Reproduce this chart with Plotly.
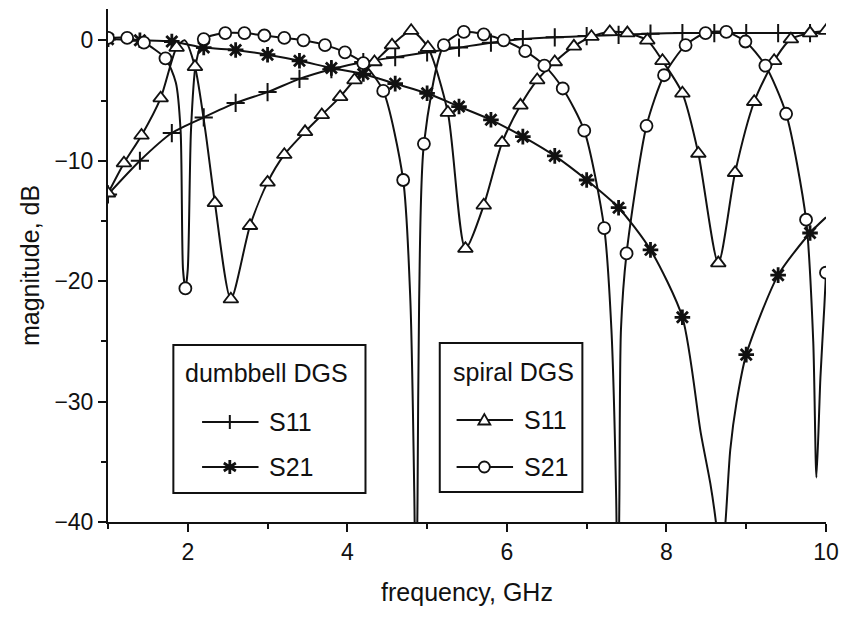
import plotly.graph_objects as go

# ---------------- data ----------------
# dumbbell DGS, S11 (plus markers)
dumb_s11_f = [1.0, 1.4, 1.8, 2.2, 2.6, 3.0, 3.4, 3.8, 4.2, 4.6, 5.0, 5.4, 5.8, 6.2, 6.6, 7.0,
              7.4, 7.8, 8.2, 8.6, 9.0, 9.4, 9.8, 10.0]
dumb_s11_db = [-12.8, -10.0, -7.7, -6.4, -5.2, -4.3, -3.2, -2.4, -1.8, -1.4, -1.0, -0.6, -0.2, 0.1,
               0.25, 0.35, 0.45, 0.55, 0.6, 0.6, 0.6, 0.6, 0.6, 0.6]
dumb_s11_mark = [1, 1, 1, 1, 1, 1, 1, 1, 1, 1, 1, 1, 1, 1, 1, 1, 1, 1, 1, 1, 1, 1, 1, 0]

# dumbbell DGS, S21 (star markers)
dumb_s21_f = [1.0, 1.4, 1.8, 2.2, 2.6, 3.0, 3.4, 3.8, 4.2, 4.6, 5.0, 5.4, 5.8, 6.2, 6.6, 7.0,
              7.4, 7.8, 8.2, 8.43, 8.55, 8.62, 8.68, 8.74, 8.8, 8.88, 9.0, 9.4, 9.8, 10.0]
dumb_s21_db = [0.1, 0.0, -0.1, -0.6, -0.8, -1.2, -1.7, -2.3, -2.8, -3.6, -4.4, -5.5, -6.6, -8.0,
               -9.6, -11.6, -13.9, -17.4, -23.0, -32.6, -36.8, -40.0, -44.0, -40.0, -34.0, -30.0,
               -26.1, -19.5, -16.0, -14.7]
dumb_s21_mark = [1, 1, 1, 1, 1, 1, 1, 1, 1, 1, 1, 1, 1, 1, 1, 1, 1, 1, 1, 0, 0, 0, 0, 0, 0, 0,
                 1, 1, 1, 0]

# spiral DGS, S11 (triangle markers)
spir_s11_f = [1.0, 1.2, 1.42, 1.66, 1.86, 1.96, 2.09, 2.22, 2.34, 2.54, 2.78, 3.0, 3.21, 3.47,
              3.68, 3.91, 4.09, 4.34, 4.56, 4.8, 5.01, 5.26, 5.48, 5.71, 5.94, 6.17, 6.38, 6.6,
              6.84, 7.06, 7.29, 7.51, 7.76, 7.95, 8.2, 8.4, 8.65, 8.86, 9.1, 9.35, 9.56, 9.8, 10.0]
spir_s11_db = [-12.7, -10.2, -7.9, -4.8, -0.6, 0.0, -2.2, -7.5, -13.5, -21.5, -15.4, -11.8, -9.5,
               -7.6, -6.2, -4.7, -3.3, -1.8, -0.4, 0.8, -0.6, -6.0, -17.3, -13.7, -8.5, -5.4, -3.3,
               -1.8, -0.5, 0.3, 0.7, 0.6, 0.0, -1.7, -4.4, -9.4, -18.5, -11.0, -5.1, -1.7, 0.1,
               0.6, 0.8]
spir_s11_mark = [1, 1, 1, 1, 1, 0, 1, 0, 1, 1, 1, 1, 1, 1, 1, 1, 1, 1, 1, 1, 1, 1, 1, 1, 1, 1, 1,
                 1, 1, 1, 1, 1, 1, 1, 1, 1, 1, 1, 1, 1, 1, 1, 1]

# spiral DGS, S21 (circle markers)
spir_s21_f = [1.0, 1.24, 1.45, 1.72, 1.85, 1.91, 1.94, 1.97, 2.0, 2.04, 2.1, 2.2, 2.47, 2.71,
              2.96, 3.21, 3.45, 3.72, 3.97, 4.2, 4.45, 4.7, 4.79, 4.84, 4.86, 4.88, 4.9, 4.96,
              5.21, 5.46, 5.71, 5.96, 6.23, 6.47, 6.7, 6.97, 7.22, 7.31, 7.37, 7.39, 7.41, 7.43,
              7.5, 7.75, 7.97, 8.24, 8.49, 8.75, 8.99, 9.24, 9.5, 9.75, 9.84, 9.88, 9.93, 9.98,
              10.0]
spir_s21_db = [0.2, 0.2, -0.2, -1.5, -3.5, -7.5, -19.0, -20.6, -19.0, -7.5, -2.0, 0.1, 0.6, 0.6,
               0.4, 0.2, 0.0, -0.4, -1.0, -1.9, -4.2, -11.6, -21.6, -38.0, -50.0, -38.0, -21.6,
               -8.6, -0.4, 0.7, 0.5, 0.0, -0.9, -2.1, -4.0, -7.5, -15.6, -24.0, -38.0, -50.0,
               -38.0, -24.0, -17.7, -7.1, -2.9, -0.4, 0.6, 0.7, -0.1, -2.1, -6.1, -14.9, -25.0,
               -36.3, -28.0, -22.0, -19.3]
spir_s21_mark = [1, 1, 1, 1, 0, 0, 0, 1, 0, 0, 0, 1, 1, 1, 1, 1, 1, 1, 1, 1, 1, 1, 0, 0, 0, 0, 0,
                 1, 1, 1, 1, 1, 1, 1, 1, 1, 1, 0, 0, 0, 0, 0, 1, 1, 1, 1, 1, 1, 1, 1, 1, 1, 0, 0,
                 0, 0, 1]

x_ticks = [2, 4, 6, 8, 10]
y_ticks = [0, -10, -20, -30, -40]
x_title = "frequency, GHz"
y_title = "magnitude, dB"
legend_titles = ["dumbbell DGS", "spiral DGS"]
legend_labels = ["S11", "S21"]

# ---------------- styles ----------------
FONT = "Liberation Sans, Arial, Helvetica, sans-serif"
INK = "#111111"
W, H = 848, 617
L, R, T, B = 108, 15, 9, 95          # plot area 108..833 x 9..522

series = [
    dict(f=dumb_s11_f, db=dumb_s11_db, mk=dumb_s11_mark, name="dumbbell DGS S11",
         marker=dict(symbol="cross-thin", size=13, color=INK, line=dict(color=INK, width=2))),
    dict(f=dumb_s21_f, db=dumb_s21_db, mk=dumb_s21_mark, name="dumbbell DGS S21",
         marker=dict(symbol="asterisk", size=13, color=INK, line=dict(color=INK, width=2.8))),
    dict(f=spir_s11_f, db=spir_s11_db, mk=spir_s11_mark, name="spiral DGS S11",
         marker=dict(symbol="triangle-up", size=13, color="white", line=dict(color=INK, width=1.8))),
    dict(f=spir_s21_f, db=spir_s21_db, mk=spir_s21_mark, name="spiral DGS S21",
         marker=dict(symbol="circle", size=12, color="white", line=dict(color=INK, width=1.8))),
]

fig = go.Figure()
for s in series:
    fig.add_trace(go.Scatter(x=s["f"], y=s["db"], mode="lines", name=s["name"],
                             line=dict(color=INK, width=2, shape="spline", smoothing=0.7),
                             showlegend=False, hoverinfo="skip"))
for s in series:
    mf = [f for f, m in zip(s["f"], s["mk"]) if m]
    mdb = [d for d, m in zip(s["db"], s["mk"]) if m]
    fig.add_trace(go.Scatter(x=mf, y=mdb, mode="markers", name=s["name"],
                             marker=s["marker"], showlegend=False))

axis_common = dict(showline=True, linecolor=INK, linewidth=2, ticks="outside",
                   tickcolor=INK, tickwidth=2, ticklen=8, showgrid=False, zeroline=False,
                   tickfont=dict(family=FONT, size=23, color=INK))

fig.update_xaxes(range=[1, 10], tickvals=x_ticks, **axis_common,
                 minor=dict(ticks="outside", ticklen=5, tickwidth=2, tickcolor=INK, dtick=1, tick0=1),
                 title=dict(text=x_title, font=dict(family=FONT, size=25, color=INK), standoff=20))
fig.update_yaxes(range=[-40, 2.6], tickvals=y_ticks, **axis_common,
                 minor=dict(ticks="outside", ticklen=5, tickwidth=2, tickcolor=INK, dtick=5, tick0=0),
                 title=dict(text=y_title, font=dict(family=FONT, size=25, color=INK), standoff=8))

# ---------------- hand-drawn legend boxes ----------------
def px(x):
    return (x - L) / (W - L - R)

def py(y):
    return (H - B - y) / (H - T - B)

shapes, annots = [], []
boxes = [
    dict(x0=174, x1=368, y0=345, y1=493, tx=184, ty=373, lx0=203, lx1=260, gx=231, sx=269,
         rows=[422, 467], series=[series[0], series[1]]),
    dict(x0=443, x1=587, y0=343, y1=492, tx=454, ty=372, lx0=460, lx1=517, gx=488, sx=526,
         rows=[420, 467], series=[series[2], series[3]]),
]
for bi, b in enumerate(boxes):
    shapes.append(dict(type="rect", xref="paper", yref="paper", x0=px(b["x0"]), x1=px(b["x1"]),
                       y0=py(b["y1"]), y1=py(b["y0"]), line=dict(color=INK, width=2),
                       fillcolor="white", layer="above"))
    annots.append(dict(xref="paper", yref="paper", x=px(b["tx"]), y=py(b["ty"]),
                       xanchor="left", yanchor="middle", showarrow=False,
                       text=legend_titles[bi], font=dict(family=FONT, size=25, color=INK)))
    for ri, ry in enumerate(b["rows"]):
        shapes.append(dict(type="line", xref="paper", yref="paper", x0=px(b["lx0"]), x1=px(b["lx1"]),
                           y0=py(ry), y1=py(ry), line=dict(color=INK, width=2), layer="above"))
        annots.append(dict(xref="paper", yref="paper", x=px(b["sx"]), y=py(ry),
                           xanchor="left", yanchor="middle", showarrow=False,
                           text=legend_labels[ri], font=dict(family=FONT, size=25, color=INK)))
        sym = b["series"][ri]["marker"]["symbol"]
        base = dict(xref="paper", yref="paper", xsizemode="pixel", ysizemode="pixel",
                    xanchor=px(b["gx"]), yanchor=py(ry), layer="above")
        if sym == "circle":
            shapes.append(dict(type="circle", x0=-5.5, x1=5.5, y0=-5.5, y1=5.5,
                               fillcolor="white", line=dict(color=INK, width=1.8), **base))
        elif sym == "triangle-up":
            shapes.append(dict(type="path", path="M-6,-4.5 L6,-4.5 L0,6 Z",
                               fillcolor="white", line=dict(color=INK, width=1.8), **base))
        elif sym == "cross-thin":
            shapes.append(dict(type="path", path="M0,-7 L0,7", line=dict(color=INK, width=2), **base))
        else:
            shapes.append(dict(type="path",
                               path="M0,-7 L0,7 M-6,-4 L6,4 M-6,4 L6,-4",
                               line=dict(color=INK, width=2.8), **base))

fig.update_layout(width=W, height=H, margin=dict(l=L, r=R, t=T, b=B),
                  paper_bgcolor="white", plot_bgcolor="white", showlegend=False,
                  shapes=shapes, annotations=annots,
                  font=dict(family=FONT, color=INK))

fig.write_html("out.html")
